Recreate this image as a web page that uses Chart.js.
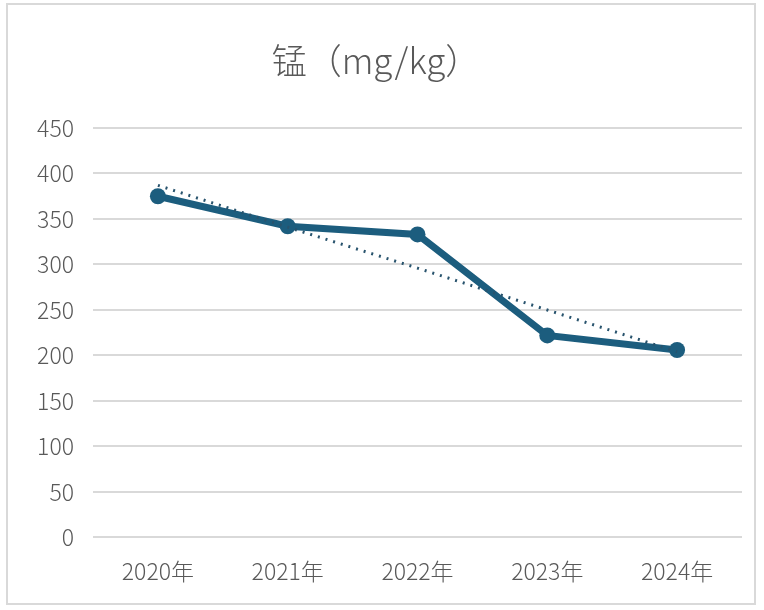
<!DOCTYPE html>
<html>
<head>
<meta charset="utf-8">
<script src="https://cdn.jsdelivr.net/npm/chart.js@4"></script>
<style>
  html, body { margin: 0; padding: 0; background: #fff; }
  #frame {
    position: absolute; left: 6px; top: 3px;
    width: 750px; height: 602px;
    border: 2px solid #d9d9d9; box-sizing: border-box;
  }
  #wrap { position: absolute; left: 2px; top: 2px; width: 746px; height: 598px; }
</style>
</head>
<body>
<div id="frame"><div id="wrap"><canvas id="chart"></canvas></div></div>
<script>
// data
const years = ["2020年", "2021年", "2022年", "2023年", "2024年"];
const manganese = [375, 342, 333, 222, 206];
const trend = [387, 341, 296, 250, 204];
const yTicks = [0, 50, 100, 150, 200, 250, 300, 350, 400, 450];

const font = "'Noto Sans CJK SC', 'Noto Sans', sans-serif";

const ctx = document.getElementById("chart").getContext("2d");
new Chart(ctx, {
  type: "line",
  data: {
    labels: years,
    datasets: [
      {
        label: "锰",
        data: manganese,
        borderColor: "#1c5d7e",
        backgroundColor: "#1c5d7e",
        borderWidth: 7,
        pointRadius: 8,
        pointBorderWidth: 0,
        tension: 0,
        order: 2
      },
      {
        label: "趋势",
        data: trend,
        borderColor: "#28536d",
        borderWidth: 3,
        borderDash: [2, 6],
        pointRadius: 0,
        tension: 0,
        order: 1
      }
    ]
  },
  options: {
    responsive: true,
    maintainAspectRatio: false,
    animation: false,
    layout: { padding: { left: 0, right: 14, top: 0, bottom: 0 } },
    plugins: {
      legend: { display: false },
      tooltip: { enabled: false },
      title: {
        display: true,
        text: "锰（mg/kg）",
        color: "#595959",
        font: { family: font, size: 35, weight: "300" },
        padding: { top: 33, bottom: 46 }
      }
    },
    scales: {
      x: {
        offset: true,
        grid: { display: false, drawTicks: false },
        border: { display: false },
        ticks: {
          color: "#595959",
          padding: 20,
          maxRotation: 0,
          font: { family: font, size: 23, weight: "300" }
        }
      },
      y: {
        min: 0,
        max: 450,
        afterBuildTicks: (axis) => { axis.ticks = yTicks.map(v => ({ value: v })); },
        afterFit: (axis) => { axis.width = 83; },
        grid: { color: "#d9d9d9", lineWidth: 2, drawTicks: false },
        border: { display: false },
        ticks: {
          color: "#595959",
          padding: 19,
          font: { family: font, size: 23, weight: "300" }
        }
      }
    }
  }
});
</script>
</body>
</html>
